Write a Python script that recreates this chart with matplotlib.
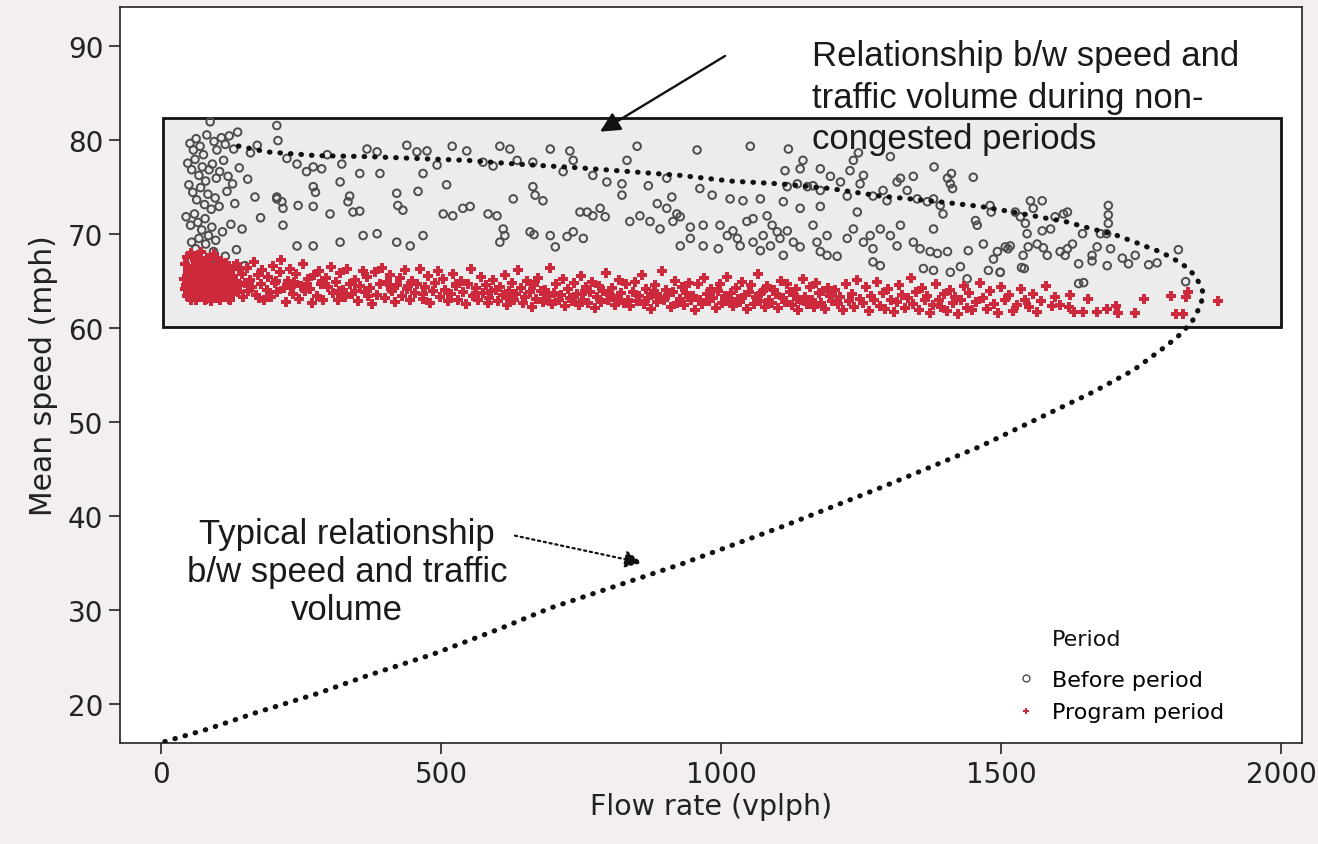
import matplotlib
matplotlib.use("Agg")
import matplotlib.pyplot as plt
from matplotlib.lines import Line2D
from matplotlib.patches import Rectangle

plt.rcParams['font.family'] = ['DejaVu Sans']

# before period: flow rate (vplph) and mean speed (mph)
before_flow = [
    52, 58, 63, 70, 76, 82, 88, 95, 100, 108,
    115, 122, 130, 137, 48, 55, 61, 68, 74, 80,
    86, 92, 99, 105, 112, 120, 128, 140, 50, 57,
    64, 71, 78, 84, 90, 97, 104, 118, 132, 45,
    53, 60, 66, 73, 79, 85, 91, 98, 110, 125,
    145, 55, 62, 68, 74, 80, 87, 94, 102, 115,
    135, 60, 72, 84, 150, 160, 172, 155, 168, 178,
    207, 209, 225, 243, 260, 272, 287, 272, 276, 207,
    216, 218, 245, 272, 302, 320, 337, 334, 355, 323,
    355, 368, 386, 391, 421, 423, 432, 459, 439, 457,
    475, 468, 504, 521, 539, 552, 584, 600, 546, 575,
    593, 605, 623, 636, 664, 695, 730, 736, 718, 664,
    668, 682, 629, 611, 614, 605, 659, 666, 695, 725,
    736, 704, 754, 748, 771, 243, 272, 320, 361, 386,
    421, 445, 468, 343, 520, 493, 218, 207, 297, 510,
    850, 957, 1052, 832, 771, 796, 823, 823, 870, 903,
    912, 886, 903, 921, 927, 984, 1016, 1039, 1070, 1111,
    1141, 1177, 1243, 962, 761, 784, 793, 837, 855, 873,
    891, 914, 945, 968, 998, 1011, 1021, 1046, 1057, 1082,
    1091, 1100, 1075, 1105, 1088, 1070, 1118, 1129, 1141, 1111,
    1057, 1029, 1034, 995, 945, 927, 968, 1164, 1171, 1189,
    1207, 1225, 1236, 1254, 1266, 1271, 1284, 1302, 1314, 1320,
    1343, 1355, 1373, 1386, 1404, 1379, 1271, 1284, 1361, 1379,
    1409, 1427, 1439, 1441, 1468, 1486, 1493, 1477, 1498, 1516,
    1539, 1536, 1177, 1189, 1118, 1136, 1154, 1164, 1177, 1195,
    1213, 1225, 1248, 1254, 1271, 1289, 1296, 1314, 1320, 1332,
    1343, 1350, 1368, 1379, 1391, 1396, 1404, 1409, 1413, 1411,
    1146, 1141, 1177, 1230, 1236, 1302, 1114, 1454, 1457, 1480,
    1482, 1552, 1573, 1557, 1525, 1534, 1543, 1546, 1618, 1611,
    1596, 1588, 1573, 1645, 1677, 1691, 1691, 1691, 1688, 1548,
    1564, 1575, 1582, 1605, 1618, 1627, 1614, 1638, 1662, 1662,
    1671, 1689, 1695, 1716, 1727, 1739, 1763, 1778, 1816, 1829,
    1638, 1647, 1507, 1512, 1498, 1541, 1120, 1245, 1380, 1450,
]
before_speed = [
    79.6, 78.9, 80.1, 79.3, 78.4, 80.5, 81.9, 79.8, 78.9, 80.2,
    79.5, 80.4, 79.0, 80.8, 77.5, 76.8, 77.9, 76.2, 77.1, 75.6,
    76.8, 77.4, 75.9, 76.6, 77.8, 76.1, 75.3, 77.0, 75.2, 74.4,
    73.6, 74.9, 73.1, 74.2, 72.6, 73.8, 72.9, 74.5, 73.2, 71.8,
    70.9, 72.1, 71.2, 70.4, 71.6, 69.8, 70.7, 69.3, 70.2, 71.0,
    70.5, 69.1, 68.4, 69.5, 67.8, 68.9, 67.2, 68.1, 66.9, 67.6,
    68.3, 66.3, 66.8, 65.9, 66.6, 78.6, 79.4, 75.8, 73.9, 71.7,
    81.5, 79.9, 78.0, 77.4, 76.6, 77.1, 76.9, 75.0, 74.4, 73.7,
    73.4, 72.7, 73.0, 72.9, 72.1, 75.5, 74.0, 73.4, 72.4, 77.4,
    76.4, 79.0, 78.7, 76.4, 74.3, 73.0, 72.5, 74.5, 79.4, 78.7,
    78.8, 76.4, 72.1, 71.9, 72.7, 72.9, 72.1, 71.9, 78.8, 77.6,
    77.2, 79.3, 79.0, 77.8, 77.6, 79.0, 78.8, 77.8, 76.6, 75.0,
    74.1, 73.5, 73.7, 70.5, 69.8, 69.1, 70.2, 69.9, 69.8, 69.7,
    70.2, 68.6, 69.5, 72.3, 71.9, 68.7, 68.7, 69.1, 69.8, 70.0,
    69.1, 68.7, 69.8, 72.3, 79.3, 77.3, 70.9, 73.9, 78.4, 75.2,
    79.3, 78.9, 79.3, 77.8, 76.2, 75.5, 75.3, 74.1, 75.1, 75.9,
    73.9, 73.2, 72.7, 72.1, 71.8, 74.1, 73.7, 73.5, 73.7, 73.4,
    72.7, 72.9, 72.3, 74.8, 72.3, 72.7, 71.8, 71.3, 71.9, 71.3,
    70.5, 71.3, 70.7, 70.9, 70.9, 69.8, 70.3, 71.3, 71.6, 71.9,
    70.9, 70.2, 69.8, 69.5, 68.7, 68.2, 70.3, 69.1, 68.6, 67.7,
    69.1, 69.5, 68.7, 68.4, 69.5, 68.7, 68.7, 70.9, 69.1, 67.7,
    67.6, 69.5, 70.5, 69.1, 69.8, 68.4, 70.5, 69.8, 68.7, 70.9,
    69.1, 68.4, 68.1, 67.9, 68.1, 70.5, 67.0, 66.6, 66.3, 66.1,
    65.9, 66.5, 65.2, 68.2, 68.9, 67.3, 68.1, 66.1, 65.9, 68.7,
    67.7, 66.4, 68.1, 69.8, 75.0, 75.3, 75.0, 75.1, 74.6, 76.1,
    75.5, 74.0, 75.3, 76.2, 74.0, 74.6, 73.5, 75.5, 75.9, 74.6,
    76.1, 73.7, 73.4, 73.7, 73.0, 72.1, 75.9, 75.3, 74.8, 76.4,
    77.8, 76.9, 76.9, 76.7, 77.8, 78.2, 76.7, 71.4, 70.9, 73.0,
    72.3, 73.5, 73.5, 72.7, 72.3, 71.8, 71.1, 70.0, 72.3, 72.1,
    71.8, 70.5, 70.3, 70.0, 70.0, 73.0, 72.0, 71.1, 70.0, 68.6,
    68.9, 68.5, 67.7, 68.1, 68.4, 68.9, 67.7, 66.8, 67.7, 67.1,
    68.6, 66.6, 68.4, 67.4, 66.8, 67.7, 66.7, 66.9, 68.3, 64.9,
    64.7, 64.8, 68.6, 68.4, 65.9, 66.3, 79.0, 78.6, 77.1, 76.0,
]

# program period
program_flow = [
    41, 43, 44, 46, 47, 49, 50, 51, 53, 54,
    55, 56, 58, 59, 60, 61, 62, 63, 64, 65,
    66, 67, 68, 69, 70, 71, 72, 73, 74, 75,
    76, 77, 78, 79, 80, 81, 82, 83, 84, 85,
    86, 87, 88, 89, 90, 91, 92, 93, 94, 95,
    96, 97, 98, 99, 100, 102, 103, 104, 106, 107,
    108, 110, 111, 112, 114, 115, 117, 118, 120, 122,
    123, 125, 127, 129, 131, 133, 135, 138, 140, 142,
    145, 147, 150, 52, 57, 63, 71, 79, 87, 101,
    45, 48, 53, 58, 62, 67, 72, 76, 81, 86,
    91, 96, 100, 105, 109, 113, 119, 124, 128, 136,
    153, 156, 160, 163, 167, 170, 174, 178, 181, 185,
    189, 192, 196, 200, 204, 208, 212, 215, 219, 223,
    227, 231, 235, 238, 242, 246, 250, 254, 258, 262,
    266, 270, 274, 278, 282, 286, 290, 295, 299, 303,
    307, 312, 316, 320, 325, 329, 333, 338, 342, 346,
    351, 355, 360, 364, 368, 373, 377, 382, 386, 391,
    395, 400, 404, 409, 413, 418, 422, 427, 431, 436,
    440, 445, 449, 454, 458, 463, 467, 472, 476, 481,
    485, 490, 494, 499, 503, 508, 512, 517, 521, 526,
    530, 535, 539, 544, 548, 553, 557, 562, 566, 571,
    575, 580, 584, 589, 593, 598, 175, 233, 288, 347,
    411, 468, 527, 586, 205, 318, 442, 560, 260, 370,
    602, 606, 610, 614, 618, 622, 626, 630, 634, 638,
    642, 646, 650, 654, 658, 662, 666, 670, 674, 678,
    682, 686, 690, 694, 698, 702, 706, 710, 714, 718,
    722, 726, 730, 734, 738, 742, 746, 750, 754, 758,
    762, 766, 770, 774, 778, 782, 786, 790, 794, 798,
    802, 806, 810, 814, 818, 822, 826, 830, 834, 838,
    842, 846, 850, 854, 858, 862, 866, 870, 874, 878,
    882, 886, 890, 894, 898, 902, 906, 910, 914, 918,
    922, 926, 930, 934, 938, 942, 946, 950, 954, 958,
    962, 966, 970, 974, 978, 982, 986, 990, 994, 998,
    1002, 1006, 1010, 1014, 1018, 1022, 1026, 1030, 1034, 1038,
    1042, 1046, 1050, 1054, 1058, 1062, 1066, 1070, 1074, 1078,
    1082, 1086, 1090, 1094, 1098, 1102, 1106, 1110, 1114, 1118,
    1122, 1126, 1130, 1134, 1138, 1142, 1146, 1150, 1154, 1158,
    1162, 1166, 1170, 1174, 1178, 1182, 1186, 1190, 1194, 1198,
    624, 688, 752, 816, 880, 944, 1008, 1072, 1136, 1196,
    1203, 1208, 1213, 1218, 1223, 1228, 1233, 1238, 1243, 1248,
    1253, 1258, 1263, 1268, 1273, 1278, 1283, 1288, 1293, 1298,
    1303, 1308, 1313, 1318, 1323, 1328, 1333, 1338, 1343, 1348,
    1353, 1358, 1363, 1368, 1373, 1378, 1383, 1388, 1393, 1398,
    1403, 1408, 1413, 1418, 1423, 1428, 1433, 1438, 1443, 1448,
    1455, 1462, 1468, 1474, 1480, 1487, 1494, 1500, 1507, 1514,
    1521, 1528, 1535, 1542, 1549, 1556, 1563, 1571, 1580, 1590,
    1596, 1605, 1620, 1622, 1629, 1645, 1655, 1671, 1689, 1704,
    1708, 1739, 1754, 1802, 1811, 1825, 1829, 1834, 1886,
]
program_speed = [
    65.2, 66.8, 64.1, 67.5, 63.4, 65.9, 64.6, 66.3, 63.0, 67.9,
    65.4, 64.0, 66.6, 63.7, 65.0, 67.2, 64.4, 62.9, 66.0, 65.6,
    63.9, 67.6, 64.9, 66.4, 63.3, 65.3, 68.1, 64.2, 66.9, 65.7,
    63.6, 64.8, 67.0, 65.1, 63.1, 66.2, 64.5, 65.8, 67.4, 63.8,
    65.5, 64.3, 66.7, 62.8, 65.0, 66.1, 63.5, 64.7, 67.8, 65.9,
    64.0, 66.5, 63.2, 65.3, 64.6, 66.8, 63.7, 65.8, 64.2, 67.1,
    65.0, 63.4, 66.3, 64.9, 65.6, 63.9, 66.9, 64.4, 65.2, 63.1,
    66.0, 64.7, 65.5, 63.6, 66.6, 64.1, 65.0, 63.8, 66.2, 64.5,
    65.7, 63.3, 64.8, 64.9, 65.8, 64.2, 66.9, 62.9, 67.3, 65.6,
    64.5, 66.1, 65.5, 64.8, 65.9, 65.1, 64.0, 66.3, 64.9, 65.3,
    64.2, 65.2, 67.3, 63.0, 65.6, 66.6, 64.0, 62.9, 65.4, 66.8,
    66.4, 63.9, 65.1, 64.3, 67.0, 63.5, 65.6, 64.6, 66.1, 62.9,
    64.0, 65.4, 63.3, 66.6, 64.8, 63.8, 65.9, 67.2, 64.2, 62.7,
    65.0, 66.3, 63.6, 64.9, 65.7, 63.1, 64.4, 66.8, 63.9, 65.2,
    64.1, 62.6, 65.6, 63.4, 66.0, 64.7, 63.0, 65.3, 64.3, 66.5,
    63.7, 64.9, 62.9, 65.8, 64.0, 63.3, 66.2, 64.6, 63.6, 65.1,
    62.8, 64.4, 66.0, 63.8, 65.4, 64.2, 62.5, 65.9, 63.5, 64.7,
    66.4, 63.2, 64.9, 65.6, 63.9, 62.7, 64.5, 65.3, 63.4, 66.1,
    64.1, 62.9, 65.0, 63.7, 64.6, 66.3, 63.1, 64.3, 65.5, 62.6,
    63.9, 64.8, 66.0, 63.3, 65.2, 64.0, 62.8, 63.6, 65.7, 64.4,
    63.0, 65.0, 63.8, 62.5, 64.7, 66.2, 63.4, 64.2, 62.9, 65.4,
    63.7, 64.5, 62.6, 63.9, 65.1, 64.0, 63.2, 64.3, 65.0, 63.9,
    64.1, 63.6, 64.6, 63.2, 65.0, 63.9, 64.4, 63.5, 64.6, 63.4,
    62.8, 64.3, 63.5, 65.6, 62.4, 63.9, 64.8, 62.9, 63.6, 66.1,
    64.2, 62.6, 63.3, 65.0, 63.8, 62.2, 64.5, 63.1, 65.3, 63.9,
    62.7, 64.0, 63.4, 66.4, 62.5, 63.7, 64.6, 62.9, 63.5, 65.2,
    62.3, 64.1, 63.2, 62.8, 64.8, 63.6, 62.4, 65.5, 63.0, 64.3,
    62.6, 63.8, 64.9, 62.1, 63.3, 64.4, 62.7, 63.9, 65.8, 62.9,
    63.5, 64.2, 62.4, 63.1, 65.1, 63.7, 62.6, 64.6, 63.0, 62.3,
    63.8, 64.9, 62.8, 63.4, 65.6, 62.5, 64.1, 63.2, 62.0, 63.6,
    64.5, 62.7, 63.3, 66.0, 62.9, 64.0, 63.5, 62.2, 63.8, 65.0,
    62.6, 63.1, 64.3, 62.4, 63.7, 64.8, 62.9, 63.4, 61.9, 64.6,
    63.0, 62.5, 65.3, 63.6, 62.8, 64.1, 63.2, 62.1, 63.9, 64.7,
    62.6, 63.4, 65.4, 62.9, 63.7, 62.3, 64.2, 63.1, 62.7, 64.9,
    63.5, 62.0, 63.8, 64.5, 62.5, 63.3, 65.7, 62.8, 63.9, 62.2,
    64.4, 63.0, 62.6, 64.0, 63.6, 62.1, 65.0, 63.2, 62.7, 64.6,
    63.8, 62.4, 63.5, 64.1, 61.9, 62.9, 65.2, 63.3, 62.5, 64.3,
    63.0, 62.2, 64.8, 63.7, 62.6, 63.9, 62.0, 64.2, 63.4, 62.8,
    63.2, 63.0, 63.6, 62.9, 63.9, 63.3, 62.8, 63.7, 63.1, 63.5,
    64.0, 62.5, 63.3, 61.9, 64.7, 62.8, 63.6, 62.2, 65.1, 63.1,
    62.6, 64.3, 61.8, 63.4, 62.9, 64.9, 62.3, 63.7, 62.0, 64.1,
    63.0, 61.7, 62.7, 64.5, 63.5, 62.1, 63.2, 65.3, 62.5, 63.8,
    61.9, 64.2, 62.9, 63.4, 61.6, 62.4, 64.7, 63.0, 62.2, 63.6,
    61.8, 64.0, 62.6, 63.3, 61.5, 62.9, 64.4, 62.1, 63.7, 61.9,
    62.7, 64.8, 63.2, 62.0, 63.9, 62.5, 61.6, 64.3, 62.9, 63.5,
    61.8, 62.4, 64.1, 63.0, 62.2, 63.6, 61.7, 62.8, 64.4, 62.3,
    63.3, 62.4, 62.2, 63.5, 61.7, 61.7, 63.1, 61.7, 62.0, 62.3,
    61.6, 61.6, 63.1, 63.4, 61.5, 61.5, 63.3, 63.8, 62.8,
]

# typical speed-flow curve (dotted)
curve_flow = [7, 82, 171, 279, 368, 486, 605, 695, 930, 1111, 1289, 1463,
              1665, 1736, 1784, 1814, 1840, 1855, 1861, 1854, 1843, 1829,
              1814, 1796, 1778, 1760, 1743, 1725, 1707, 1650, 1614, 1575,
              1521, 1463, 1373, 1284, 1195, 1105, 1016, 927, 837, 748, 636,
              546, 457, 368, 278, 189, 132]
curve_speed = [16.0, 17.3, 19.1, 21.1, 23.0, 25.3, 28.0, 30.2, 34.9, 38.9,
               43.1, 47.4, 53.2, 55.5, 57.6, 59.0, 60.6, 62.3, 63.6, 64.7,
               65.7, 66.5, 67.1, 67.7, 68.2, 68.6, 69.0, 69.4, 69.8, 70.7,
               71.3, 71.7, 72.3, 72.9, 73.5, 74.0, 74.8, 75.3, 75.6, 76.2,
               76.6, 77.0, 77.4, 77.8, 78.0, 78.2, 78.3, 78.7, 79.4]

x_ticks = [0, 500, 1000, 1500, 2000]
y_ticks = [20, 30, 40, 50, 60, 70, 80, 90]

# box around the non-congested region
box_flow = (3, 2000)
box_speed = (60.1, 82.3)

red = '#cc2a3c'
grey = '#4d4d4d'

fig = plt.figure(figsize=(13.18, 8.45), dpi=100, facecolor='#f3efef')
ax = fig.add_axes([0.091, 0.1195, 0.897, 0.871])
ax.set_facecolor('white')

ax.add_patch(Rectangle((box_flow[0], box_speed[0]), box_flow[1] - box_flow[0],
                       box_speed[1] - box_speed[0], facecolor='#ececec',
                       edgecolor='#111111', lw=2, zorder=1))

ax.scatter(before_flow, before_speed, s=30, facecolors='none',
           edgecolors=grey, linewidths=1.4, zorder=2)
ax.scatter(program_flow, program_speed, s=42, marker='P', color=red,
           linewidths=0, zorder=3)
ax.plot(curve_flow, curve_speed, color='#111111', lw=3.7,
        linestyle=(0, (0.1, 1.95)), dash_capstyle='round', zorder=4)

ax.set_xlim(-73, 2037)
ax.set_ylim(15.85, 94.1)
ax.set_xticks(x_ticks)
ax.set_yticks(y_ticks)
ax.tick_params(direction='out', length=8, width=1.2, labelsize=20, pad=4,
               colors='#222222')
for sp in ax.spines.values():
    sp.set_linewidth(1.2)
    sp.set_color('#222222')

ax.set_xlabel('Flow rate (vplph)', fontsize=20.5, labelpad=3, color='#222222')
ax.set_ylabel('Mean speed (mph)', fontsize=21.5, labelpad=7, color='#222222')

# annotations
ax.annotate('', xy=(784, 80.85), xytext=(1007, 88.9),
            arrowprops=dict(arrowstyle='-|>', color='#111111', lw=1.7,
                            mutation_scale=30, shrinkA=0, shrinkB=0),
            zorder=5)
ax.text(1162, 90.7, 'Relationship b/w speed and\ntraffic volume during non-\ncongested periods',
        family='Liberation Sans', fontsize=25, ha='left', va='top',
        linespacing=1.33, color='#1a1a1a', zorder=6)

ax.annotate('', xy=(859, 35.0), xytext=(632, 37.9),
            arrowprops=dict(arrowstyle='-|>', color='#111111', lw=1.6,
                            linestyle=':', mutation_scale=26,
                            shrinkA=0, shrinkB=0),
            zorder=5)
ax.text(332, 39.9, 'Typical relationship\nb/w speed and traffic\nvolume',
        family='Liberation Sans', fontsize=25, ha='center', va='top',
        linespacing=1.19, color='#1a1a1a', zorder=6)

handles = [
    Line2D([], [], marker='o', ls='none', mfc='none', mec=grey, ms=5, mew=1),
    Line2D([], [], marker='P', ls='none', color=red, mew=0, ms=5),
]
ax.legend(handles, ['Before period', 'Program period'],
          loc='upper left', bbox_to_anchor=(0.753, 0.099), frameon=False,
          fontsize=16, handlelength=1.4, handletextpad=0.5,
          labelspacing=0.55, borderpad=0, borderaxespad=0)
ax.text(0.7885, 0.1413, 'Period', transform=ax.transAxes, fontsize=16,
        ha='left', va='center', color='#111111')

fig.savefig('out.png', dpi=100, facecolor=fig.get_facecolor())
